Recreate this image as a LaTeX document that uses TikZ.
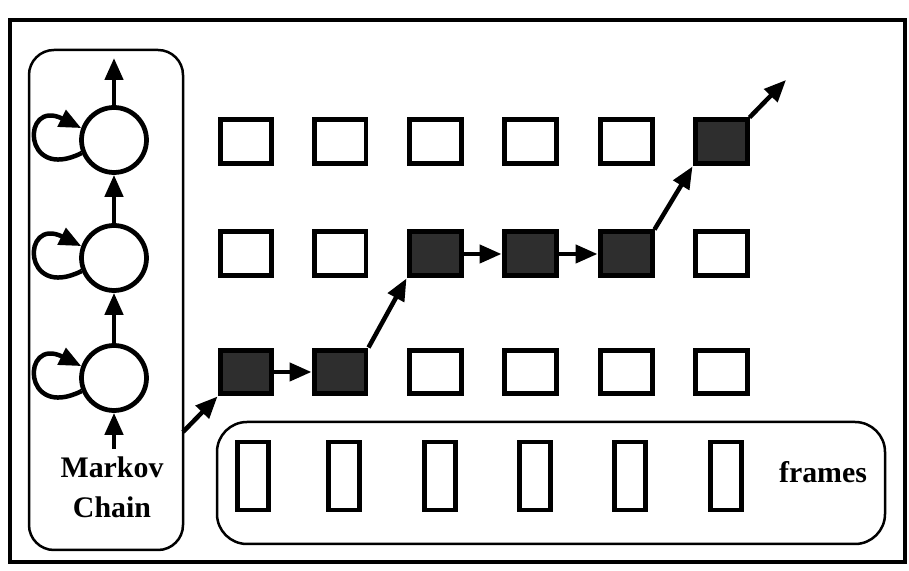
\documentclass[tikz,border=0pt]{standalone}
\usepackage{fontspec}
\setmainfont{Liberation Serif}
\usetikzlibrary{arrows.meta}
\begin{document}
\begin{tikzpicture}[x=0.02cm,y=0.02cm,
  arr/.style={line width=0.09cm,-{Triangle[length=0.44cm,width=0.36cm]}},
  state/.style={circle,draw,line width=0.095cm,minimum size=1.3cm,inner sep=0pt},
  cell/.style={rectangle,draw,line width=0.1cm,minimum width=1.04cm,minimum height=0.88cm,inner sep=0pt},
  hit/.style={cell,fill=black!82},
  frm/.style={rectangle,draw,line width=0.095cm,minimum width=0.62cm,minimum height=1.36cm,inner sep=0pt},
  lbl/.style={font=\fontsize{17}{20}\selectfont\bfseries,inner sep=0pt},
  panel/.style={draw,line width=0.05cm,rounded corners=0.5cm}]
\useasboundingbox (0,0) rectangle (909,571);
% outer frame
\draw[line width=0.08cm] (10,551) rectangle (905,9);
% Markov chain panel
\draw[panel] (29,521) rectangle (183,21);
\node[state] (c3) at (114,431) {};
\node[state] (c2) at (114,313) {};
\node[state] (c1) at (114,193) {};
\coordinate (top) at (114,513);
\coordinate (bot) at (114,122);
\draw[arr] (c3.north) -- (top);
\draw[arr] (c2.north) -- (c3.south);
\draw[arr] (c1.north) -- (c2.south);
\draw[arr] (bot) -- (c1.south);
\foreach \c in {c1,c2,c3}{
  \draw[arr] (\c.202) .. controls +(-60,-30) and +(-60,30) .. (\c.160);
}
\node[lbl] (mk) at (112,104) {Markov};
\node[lbl] (ch) at (112,64) {Chain};
% grid of states
\foreach \x [count=\i] in {246,340,435,530,626,721}{
  \node[cell] (s\i-1) at (\x,429) {};
  \node[cell] (s\i-2) at (\x,317) {};
  \node[cell] (s\i-3) at (\x,199) {};
}
\node[hit] at (s1-3) {};
\node[hit] at (s2-3) {};
\node[hit] at (s3-2) {};
\node[hit] at (s4-2) {};
\node[hit] at (s5-2) {};
\node[hit] at (s6-1) {};
\coordinate (mcout) at (183,139);
\coordinate (end) at (786,491);
\draw[arr] (mcout) -- (s1-3.south west);
\draw[arr] (s1-3.east) -- (s2-3.west);
\draw[arr] (s2-3.north east) -- (s3-2.south west);
\draw[arr] (s3-2.east) -- (s4-2.west);
\draw[arr] (s4-2.east) -- (s5-2.west);
\draw[arr] (s5-2.north east) -- (s6-1.south west);
\draw[arr] (s6-1.north east) -- (end);
% frames panel
\draw[panel,rounded corners=0.6cm] (217,149) rectangle (885,27);
\foreach \x [count=\i] in {253,344,440,535,630,726}{
  \node[frm] (f\i) at (\x,95) {};
}
\node[lbl] (fr) at (823,99) {frames};
\end{tikzpicture}
\end{document}
